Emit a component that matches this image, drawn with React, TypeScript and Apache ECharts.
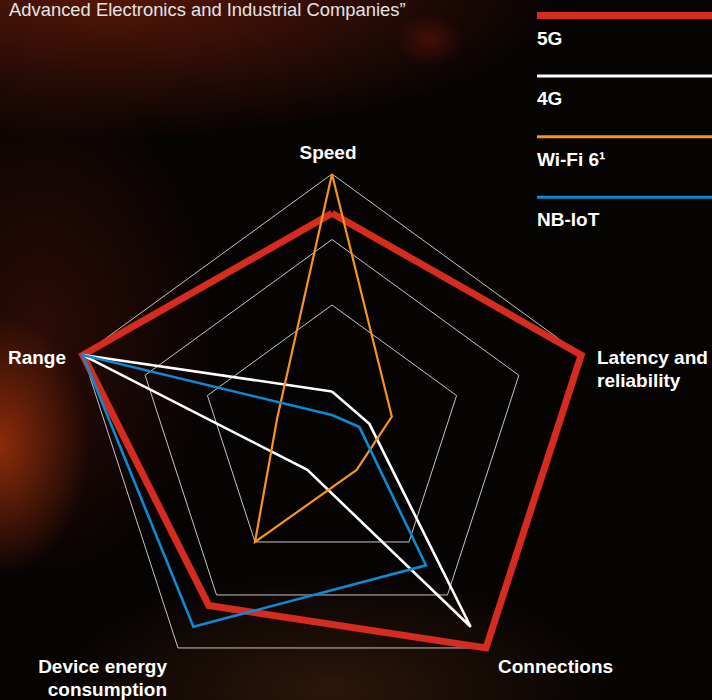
import React, { useEffect, useRef } from "react";
import * as echarts from "echarts";

// ---- data ----
const indicatorNames = [
  "Speed",
  "Range",
  "Device energy\nconsumption",
  "Connections",
  "Latency and\nreliability",
];
const seriesNames = ["5G", "4G", "Wi-Fi 6¹", "NB-IoT"];
// values in indicator order: Speed, Range, Device energy, Connections, Latency
const values5G = [85, 100, 80, 100, 100];
const values4G = [17, 100, 16, 90, 15];
const valuesWiFi6 = [100, 22, 50, 16, 24];
const valuesNBIoT = [8, 100, 90, 61, 11];
const indicatorMax = 100;
const titleText = "Advanced Electronics and Industrial Companies\u201D";

// ---- styles / layout ----
const seriesValues = [values5G, values4G, valuesWiFi6, valuesNBIoT];
const seriesColors = ["#d62b1f", "#ffffff", "#f7941d", "#0b8bd3"];
const seriesWidths = [7, 2.6, 2.2, 2.6];
const legendLineWidths = [7, 3, 3, 3];
const FONT = "'Liberation Sans', Arial, Helvetica, sans-serif";
const GRID = "#c4c4c4";

const labelLayout = [
  { x: 328, y: 152, align: "center" },
  { x: 66, y: 357, align: "right" },
  { x: 167, y: 678, align: "right" },
  { x: 498, y: 666, align: "left" },
  { x: 597, y: 369, align: "left" },
];

const BG =
  "radial-gradient(ellipse 90px 130px at 0px 445px, rgba(160,50,12,0.85), rgba(160,50,12,0) 100%)," +
  "radial-gradient(ellipse 460px 150px at 110px -10px, rgba(115,30,10,0.75), rgba(115,30,10,0) 100%)," +
  "radial-gradient(ellipse 180px 260px at 40px 330px, rgba(90,22,8,0.45), rgba(90,22,8,0) 100%)," +
  "radial-gradient(ellipse 280px 120px at 330px 690px, rgba(75,38,14,0.55), rgba(75,38,14,0) 100%)," +
  "radial-gradient(ellipse 34px 26px at 430px 40px, rgba(120,20,8,0.45), rgba(120,20,8,0) 100%)," +
  "#060303";

export default function App() {
  const ref = useRef<HTMLDivElement>(null);

  useEffect(() => {
    if (!ref.current) return;
    const chart = echarts.init(ref.current, undefined, { renderer: "svg" });

    const legendGraphics: any[] = [];
    seriesNames.forEach((name, i) => {
      const y = 15.5 + i * 60.6;
      legendGraphics.push({
        type: "line",
        silent: true,
        shape: { x1: 537, y1: y, x2: 712, y2: y },
        style: { stroke: seriesColors[i], lineWidth: legendLineWidths[i] },
      });
      legendGraphics.push({
        type: "text",
        silent: true,
        x: 537,
        y: y + 22.5,
        style: {
          text: name,
          fill: "#ffffff",
          font: `bold 19px ${FONT}`,
          align: "left",
          verticalAlign: "middle",
        },
      });
    });

    const labelGraphics = indicatorNames.map((name, i) => ({
      type: "text",
      silent: true,
      x: labelLayout[i].x,
      y: labelLayout[i].y,
      style: {
        text: name,
        fill: "#ffffff",
        font: `bold 19px ${FONT}`,
        lineHeight: 23,
        align: labelLayout[i].align,
        verticalAlign: "middle",
      },
    }));

    chart.setOption({
      animation: false,
      backgroundColor: "transparent",
      radar: {
        center: [332, 436],
        radius: 262,
        startAngle: 90,
        splitNumber: 4,
        shape: "polygon",
        indicator: indicatorNames.map((n) => ({ name: n, min: 0, max: indicatorMax })),
        axisName: { show: false },
        axisLine: { show: false },
        axisTick: { show: false },
        axisLabel: { show: false },
        splitArea: { show: false },
        splitLine: {
          lineStyle: {
            color: ["rgba(0,0,0,0)", "rgba(0,0,0,0)", GRID, GRID, GRID],
            width: 1,
          },
        },
      },
      series: [
        {
          type: "radar",
          silent: true,
          symbol: "none",
          data: seriesValues.map((vals, i) => ({
            name: seriesNames[i],
            value: vals,
            lineStyle: { color: seriesColors[i], width: seriesWidths[i], join: "miter", opacity: 1 },
          })),
        },
      ],
      graphic: [
        {
          type: "text",
          silent: true,
          x: 9,
          y: 9,
          style: {
            text: titleText,
            fill: "#e4e4e4",
            font: `18.4px ${FONT}`,
            align: "left",
            verticalAlign: "middle",
          },
        },
        ...legendGraphics,
        ...labelGraphics,
      ],
    });

    return () => chart.dispose();
  }, []);

  return (
    <div
      ref={ref}
      style={{ position: "fixed", left: 0, top: 0, width: 712, height: 700, background: BG }}
    />
  );
}
